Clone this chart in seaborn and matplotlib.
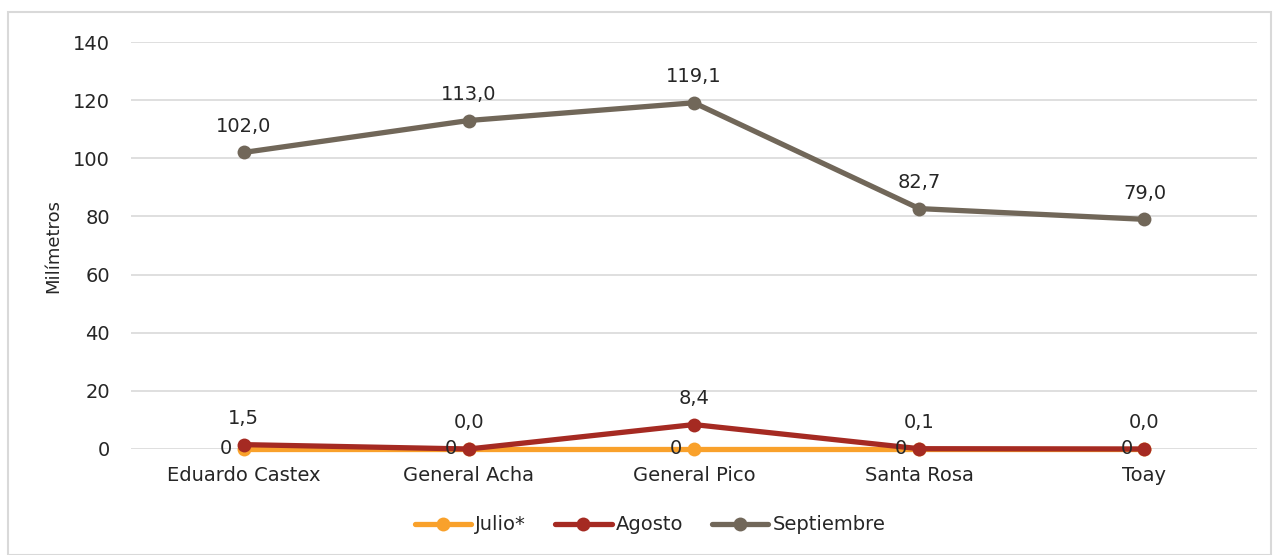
import pandas as pd
import matplotlib.pyplot as plt
import seaborn as sns
from matplotlib.patches import Rectangle

# Data
estaciones = ['Eduardo Castex', 'General Acha', 'General Pico', 'Santa Rosa', 'Toay']
julio = [0, 0, 0, 0, 0]
agosto = [1.5, 0.0, 8.4, 0.1, 0.0]
septiembre = [102.0, 113.0, 119.1, 82.7, 79.0]
meses = ['Julio*', 'Agosto', 'Septiembre']
colores = ['#F9A12B', '#A52A22', '#716759']

rows = []
for mes, vals in zip(meses, [julio, agosto, septiembre]):
    for est, v in zip(estaciones, vals):
        rows.append({'estacion': est, 'mm': v, 'mes': mes})
df = pd.DataFrame(rows)

sns.set_theme(style='white')
plt.rcParams['font.family'] = ['DejaVu Sans']

fig = plt.figure(figsize=(12.74, 5.55), dpi=100)
ax = fig.add_axes([0.1028, 0.191, 0.8839, 0.7333])

fig.patches.append(Rectangle((8 / 1274, 0), 1263 / 1274, 1 - 12 / 555,
                             transform=fig.transFigure, fill=False,
                             edgecolor='#D9D9D9', linewidth=1.5))

sns.lineplot(data=df, x='estacion', y='mm', hue='mes', palette=colores,
             marker='o', markersize=10, markeredgewidth=0, linewidth=3.8,
             ax=ax, legend=True)
for ln in ax.lines:
    ln.set_clip_on(False)

fs = 14
# Data labels
for i, v in enumerate(julio):
    ax.annotate(f'{v}', (i, v), xytext=(-13, 0), textcoords='offset points',
                ha='center', va='center', fontsize=fs, color='#262626')
for vals in [agosto, septiembre]:
    for i, v in enumerate(vals):
        ax.annotate(f'{v:.1f}'.replace('.', ','), (i, v), xytext=(0, 12),
                    textcoords='offset points', ha='center', va='bottom',
                    fontsize=fs, color='#262626')

ax.set_ylim(0, 140)
ax.set_yticks(range(0, 141, 20))
ax.set_xlim(-0.5, 4.5)
ax.grid(axis='y', color='#D9D9D9', linewidth=1.2)
ax.set_axisbelow(True)
for s in ax.spines.values():
    s.set_visible(False)
ax.tick_params(axis='both', length=0, labelsize=fs, colors='#262626')
ax.tick_params(axis='y', pad=15)
ax.tick_params(axis='x', pad=12)
ax.set_xlabel('')
ax.set_ylabel('Milímetros', fontsize=13, color='#262626', labelpad=8)

ax.legend(loc='center', bbox_to_anchor=(650 / 1274, 1 - 525 / 555),
          bbox_transform=fig.transFigure, ncol=3,
          frameon=False, fontsize=fs, handlelength=2.9, handletextpad=0.2,
          columnspacing=1.5)

fig.savefig('out.png', dpi=100)
